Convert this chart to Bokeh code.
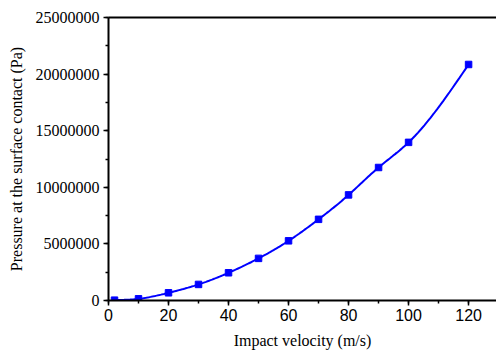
import numpy as np
from bokeh.plotting import figure
from bokeh.models import LinearAxis, Range1d, SingleIntervalTicker, BasicTickFormatter
from bokeh.embed import file_html
from bokeh.resources import INLINE

# Contact pressure vs impact velocity
velocity = [2, 10, 20, 30, 40, 50, 60, 70, 80, 90, 100, 120]
pressure = [30000, 150000, 680000, 1420000, 2450000, 3720000, 5270000,
            7170000, 9330000, 11750000, 13970000, 20850000]


def spline_path(xs, ys, steps=20):
    """Natural cubic spline through the points, for a smooth connecting line."""
    x = np.asarray(xs, float)
    y = np.asarray(ys, float)
    n = len(x)
    h = np.diff(x)
    A = np.zeros((n, n))
    b = np.zeros(n)
    A[0, 0] = A[-1, -1] = 1
    for i in range(1, n - 1):
        A[i, i - 1] = h[i - 1]
        A[i, i] = 2 * (h[i - 1] + h[i])
        A[i, i + 1] = h[i]
        b[i] = 3 * ((y[i + 1] - y[i]) / h[i] - (y[i] - y[i - 1]) / h[i - 1])
    c = np.linalg.solve(A, b)
    px, py = [], []
    for i in range(n - 1):
        bi = (y[i + 1] - y[i]) / h[i] - h[i] * (2 * c[i] + c[i + 1]) / 3
        di = (c[i + 1] - c[i]) / (3 * h[i])
        t = np.linspace(0, h[i], steps, endpoint=(i == n - 2))
        px.extend(x[i] + t)
        py.extend(y[i] + bi * t + c[i] * t ** 2 + di * t ** 3)
    return px, py


p = figure(width=496, height=352, output_backend="svg", toolbar_location=None,
           x_range=Range1d(0, 129.3), y_range=Range1d(0, 25000000),
           x_axis_type=None, y_axis_type=None,
           min_border_left=108, min_border_right=0, min_border_top=17,
           min_border_bottom=52)
p.outline_line_color = None
p.grid.visible = False
p.background_fill_color = "white"
p.border_fill_color = "white"

serif = "'Liberation Serif', 'Times New Roman', serif"
sans = "'Liberation Sans', Arial, sans-serif"

xaxis = LinearAxis(ticker=SingleIntervalTicker(interval=20, num_minor_ticks=2),
                   axis_label="Impact velocity (m/s)")
xaxis.axis_label_text_font = serif
xaxis.axis_label_text_font_style = "normal"
xaxis.axis_label_text_font_size = "16px"
xaxis.axis_label_standoff = 8
xaxis.major_label_text_font = sans
xaxis.major_label_text_font_size = "16px"
xaxis.major_label_standoff = 3
p.add_layout(xaxis, "below")

yaxis = LinearAxis(ticker=SingleIntervalTicker(interval=5000000, num_minor_ticks=2),
                   axis_label="Pressure at the surface contact (Pa)",
                   formatter=BasicTickFormatter(use_scientific=False))
yaxis.axis_label_text_font = serif
yaxis.axis_label_text_font_style = "normal"
yaxis.axis_label_text_font_size = "16px"
yaxis.axis_label_standoff = 8
yaxis.major_label_text_font = serif
yaxis.major_label_text_font_size = "16px"
yaxis.major_label_standoff = 4
p.add_layout(yaxis, "left")

for ax in (xaxis, yaxis):
    ax.axis_line_width = 2
    ax.axis_line_color = "black"
    ax.major_tick_line_width = 1.5
    ax.minor_tick_line_width = 1.5
    ax.major_tick_in = 0
    ax.major_tick_out = 5
    ax.minor_tick_in = 0
    ax.minor_tick_out = 3
    ax.major_label_text_color = "black"
    ax.axis_label_text_color = "black"

# top frame line
top = LinearAxis(major_tick_in=0, major_tick_out=0, minor_tick_in=0, minor_tick_out=0,
                 major_label_text_font_size="0px", axis_line_width=2,
                 major_label_standoff=0)
top.major_label_text_alpha = 0
p.add_layout(top, "above")

cx, cy = spline_path(velocity, pressure)
p.line(cx, cy, line_color="#0000ff", line_width=2)
p.scatter(velocity, pressure, marker="square", size=6.5, fill_color="#0000ff",
          line_color="#0000ff")

open("out.html", "w").write(file_html(p, INLINE))
